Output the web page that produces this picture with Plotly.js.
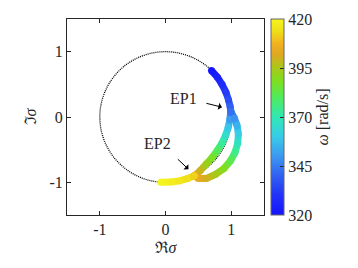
<!DOCTYPE html>
<html>
<head>
<meta charset="utf-8">
<script src="https://cdn.plot.ly/plotly-3.0.1.min.js"></script>
<style>html,body{margin:0;padding:0;background:#fff;}#chart{width:358px;height:268px;}</style>
</head>
<body>
<div id="chart"></div>
<script>
// Shared path (coincident eigenvalues) before EP1
const omegaShared = [320, 324, 328, 332, 336, 340, 343];
const xShared = [0.70, 0.79, 0.86, 0.92, 0.96, 0.985, 0.995];
const yShared = [0.71, 0.61, 0.50, 0.38, 0.26, 0.16, 0.08];
// Inner branch EP1 -> EP2
const omegaInner = [343, 351, 359, 366, 373, 380, 387, 393, 399, 405];
const xInner = [0.995, 0.98, 0.955, 0.915, 0.86, 0.79, 0.71, 0.62, 0.53, 0.44];
const yInner = [0.08, -0.04, -0.16, -0.28, -0.40, -0.51, -0.62, -0.72, -0.82, -0.90];
// Outer branch EP1 -> EP2
const omegaOuter = [343, 349, 355, 361, 368, 375, 382, 389, 395, 400, 404, 405];
const xOuter = [0.995, 1.05, 1.09, 1.11, 1.10, 1.06, 0.99, 0.89, 0.76, 0.62, 0.50, 0.44];
const yOuter = [0.08, -0.02, -0.13, -0.26, -0.40, -0.54, -0.67, -0.79, -0.88, -0.94, -0.94, -0.90];
// Tail after EP2
const omegaTail = [412, 414, 416, 418, 420];
const xTail = [0.44, 0.33, 0.21, 0.09, -0.07];
const yTail = [-0.90, -0.945, -0.978, -0.996, -0.998];

const axisTicks = [-1, 0, 1];
const axisTickText = ['-1', '0', '1'];
const cbTicks = [320, 345, 370, 395, 420];
const cmin = 320, cmax = 420;

const colorscale = [
  [0.0, '#1414ff'], [0.1, '#2232f8'], [0.2, '#3060f2'], [0.3, '#3c98f0'],
  [0.4, '#38cce8'], [0.5, '#30e8b4'], [0.6, '#50ec5c'], [0.68, '#7ce020'],
  [0.75, '#a8c818'], [0.82, '#e0a820'], [0.87, '#f0b020'], [0.94, '#f0e018'],
  [1.0, '#f4f420']
];
function hex2rgb(h){return [parseInt(h.substr(1,2),16),parseInt(h.substr(3,2),16),parseInt(h.substr(5,2),16)];}
function colorAt(v){
  let t = (v - cmin) / (cmax - cmin);
  t = Math.max(0, Math.min(1, t));
  for (let i = 0; i < colorscale.length - 1; i++) {
    const [t0, c0] = colorscale[i], [t1, c1] = colorscale[i+1];
    if (t >= t0 && t <= t1) {
      const f = (t - t0) / (t1 - t0);
      const a = hex2rgb(c0), b = hex2rgb(c1);
      return 'rgb(' + a.map((x,k)=>Math.round(x + (b[k]-x)*f)).join(',') + ')';
    }
  }
  return colorscale[colorscale.length-1][1];
}

const branches = [
  [xShared, yShared, omegaShared],
  [xInner, yInner, omegaInner],
  [xOuter, yOuter, omegaOuter],
  [xTail, yTail, omegaTail]
];
const traces = [];
branches.forEach(([bx, by, bw]) => {
  for (let i = 0; i < bx.length - 1; i++) {
    traces.push({
      type: 'scatter', mode: 'lines',
      x: [bx[i], bx[i+1]], y: [by[i], by[i+1]],
      line: {color: colorAt((bw[i] + bw[i+1]) / 2), width: 7},
      hoverinfo: 'skip', showlegend: false
    });
  }
});
const allX = [].concat(xShared, xInner, xOuter, xTail);
const allY = [].concat(yShared, yInner, yOuter, yTail);
const allW = [].concat(omegaShared, omegaInner, omegaOuter, omegaTail);
traces.push({
  type: 'scatter', mode: 'markers', x: allX, y: allY, showlegend: false,
  marker: {
    size: 7, color: allW, cmin: cmin, cmax: cmax, colorscale: colorscale,
    line: {width: 0}, showscale: true,
    colorbar: {
      x: 1.0355, xanchor: 'left', xpad: 0, y: 0.5, yanchor: 'middle', ypad: 0,
      len: 1, lenmode: 'fraction', thickness: 13, thicknessmode: 'pixels',
      outlinewidth: 1, outlinecolor: '#666',
      tickvals: cbTicks, ticktext: cbTicks.map(String), ticks: 'inside', ticklen: 4,
      tickcolor: '#262626', tickfont: {family: 'Liberation Serif', size: 16, color: '#262626'},
      title: {text: '<i>ω</i> [rad/s]', side: 'right', font: {family: 'Liberation Serif', size: 16, color: '#262626'}}
    }
  }
});

const font = {family: 'Liberation Serif', size: 16, color: '#262626'};
const axisCommon = {
  range: [-1.5, 1.5], tickvals: axisTicks, ticktext: axisTickText,
  ticks: 'inside', ticklen: 4, tickcolor: '#262626', showline: true, linecolor: '#262626',
  linewidth: 1, mirror: 'ticks', showgrid: false, zeroline: false, tickfont: font
};
const layout = {
  width: 358, height: 268,
  margin: {l: 67, r: 94, t: 19, b: 53},
  paper_bgcolor: '#fff', plot_bgcolor: '#fff',
  font: font,
  xaxis: Object.assign({}, axisCommon, {title: {text: 'ℜ<i>σ</i>', font: font, standoff: 4}}),
  yaxis: Object.assign({}, axisCommon, {title: {text: 'ℑ<i>σ</i>', font: font, standoff: 8}}),
  shapes: [{
    type: 'circle', xref: 'x', yref: 'y', x0: -1, y0: -1, x1: 1, y1: 1,
    line: {color: '#000', width: 1.3, dash: '1px,1px'}, layer: 'below'
  }],
  annotations: [
    {x: 0.267, y: 0.28, xref: 'x', yref: 'y', text: 'EP1', showarrow: false, font: font},
    {x: -0.12, y: -0.41, xref: 'x', yref: 'y', text: 'EP2', showarrow: false, font: font},
    {x: 0.86, y: 0.15, ax: 0.60, ay: 0.215, xref: 'x', yref: 'y', axref: 'x', ayref: 'y',
     text: '', showarrow: true, arrowhead: 1, arrowsize: 1.2, arrowwidth: 1, arrowcolor: '#000'},
    {x: 0.35, y: -0.80, ax: 0.165, ay: -0.625, xref: 'x', yref: 'y', axref: 'x', ayref: 'y',
     text: '', showarrow: true, arrowhead: 1, arrowsize: 1.2, arrowwidth: 1, arrowcolor: '#000'}
  ]
};
Plotly.newPlot('chart', traces, layout, {staticPlot: true, displayModeBar: false});
</script>
</body>
</html>
